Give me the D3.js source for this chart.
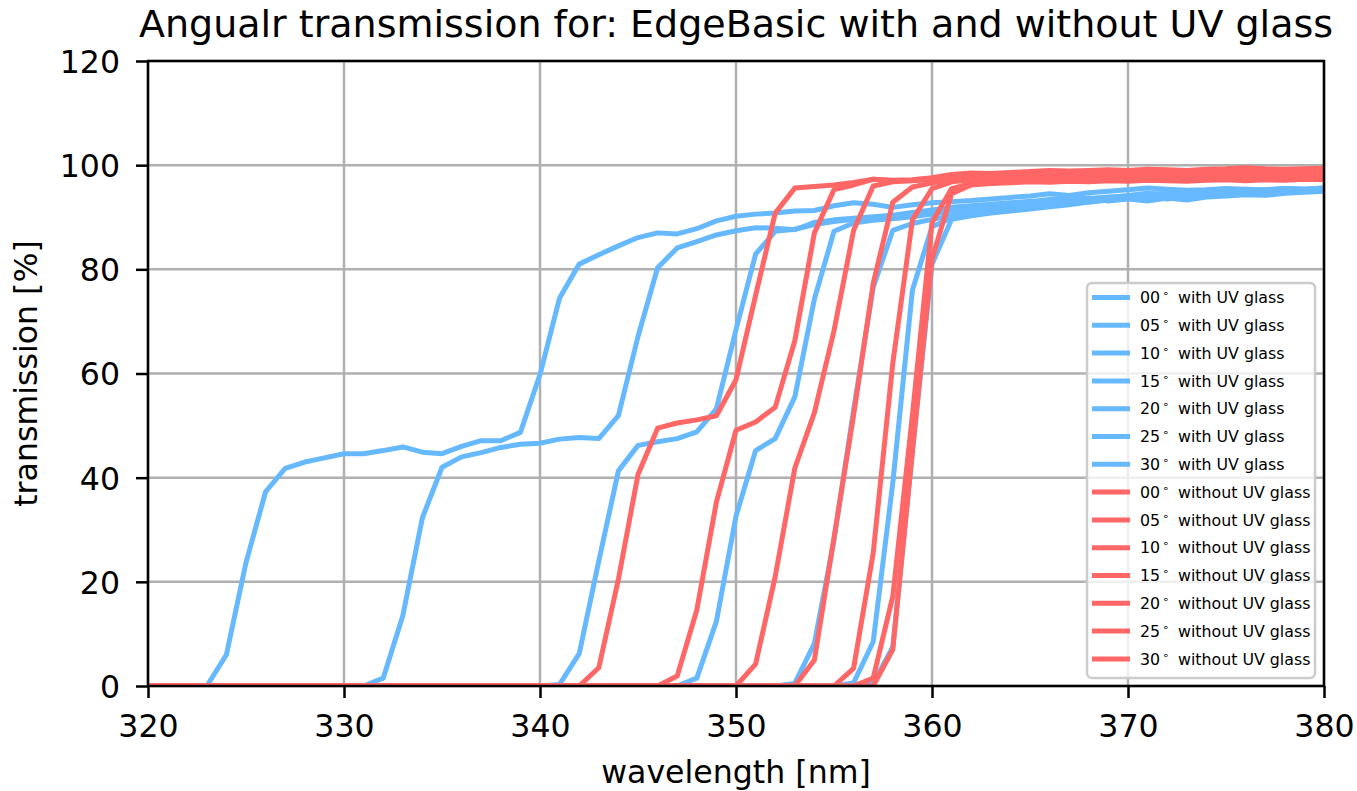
<!DOCTYPE html>
<html>
<head>
<meta charset="utf-8">
<script src="https://cdn.jsdelivr.net/npm/d3@7/dist/d3.min.js"></script>
<style>
  body { margin: 0; background: #fff; }
  svg { display: block; font-family: "DejaVu Sans", sans-serif; }
</style>
</head>
<body>
<svg id="chart" width="1357" height="791"></svg>
<script>
// wavelength axis (1 nm steps)
const wavelengths = [320,321,322,323,324,325,326,327,328,329,330,331,332,333,334,335,336,337,338,339,
  340,341,342,343,344,345,346,347,348,349,350,351,352,353,354,355,356,357,358,359,
  360,361,362,363,364,365,366,367,368,369,370,371,372,373,374,375,376,377,378,379,380];

const angles = ["00", "05", "10", "15", "20", "25", "30"];
const xTicks = [320, 330, 340, 350, 360, 370, 380];
const yTicks = [0, 20, 40, 60, 80, 100, 120];

// transmission with UV glass, 00 .. 30 degrees
const uv00 = [0,0,0,0,0,0,0,0,0,0,0,0,0,0,0,0,0,0,0,0,
  0,0,0,0,0,0,0,0,0,0,0,0,0,0,0,0,0,0.5,7.5,45,
  81,89.6,90.3,90.8,91.2,91.6,92,92.4,92.9,93.3,93.6,93.9,93.5,94,94.4,94.3,94.6,94.9,94.8,95,95.1];
const uv05 = [0,0,0,0,0,0,0,0,0,0,0,0,0,0,0,0,0,0,0,0,
  0,0,0,0,0,0,0,0,0,0,0,0,0,0,0,0,0.6,8.5,39,76,
  88.2,89.8,90.4,90.9,91.3,91.8,92.2,92.7,93.1,93.4,93.8,93.4,93.9,94.3,94.1,94.5,94.8,94.7,95,95.2,95.3];
const uv10 = [0,0,0,0,0,0,0,0,0,0,0,0,0,0,0,0,0,0,0,0,
  0,0,0,0,0,0,0,0,0,0,0,0,0,0.5,8.2,28,53,76.5,87.5,88.8,
  89.6,90.3,90.9,91.3,91.7,92.1,92.6,93,93.4,93.7,94,94.3,94.6,94.4,94.8,95.1,95,95.3,95.5,95.4,95.6];
const uv15 = [0,0,0,0,0,0,0,0,0,0,0,0,0,0,0,0,0,0,0,0,
  0,0,0,0,0,0,0,0,1.5,12.4,32.6,45.2,47.5,55.5,74.3,87.3,88.9,89.4,89.7,90.1,
  90.6,91.2,91.6,91.9,92.3,92.6,92.9,93.3,93.6,93.9,94.1,94.4,94.2,94.5,94.7,94.6,94.9,95.1,95.3,95.2,95.4];
const uv20 = [0,0,0,0,0,0,0,0,0,0,0,0,0,0,0,0,0,0,0,0,
  0,0.3,6.2,24,41.3,46.2,46.9,47.5,48.8,53.2,68.4,82.9,87.3,87.7,88.6,89.2,89.6,89.9,90.2,90.6,
  91.1,91.6,91.9,92.1,92.5,93.1,92.9,93.4,93.7,93.1,93.5,93.1,93.7,93.3,93.9,94.1,94.3,94.2,94.6,94.8,95];
const uv25 = [0,0,0,0,0,0,0,0,0,0,0,0,1.5,13.5,32.3,42,44,44.8,45.8,46.4,
  46.6,47.4,47.7,47.5,51.9,67.1,80.3,84.1,85.3,86.6,87.4,88,87.9,87.6,89,89.5,89.8,90.1,90.4,90.9,
  91.4,91.9,92.2,92.5,92.8,93,93.4,93.7,93.3,93.7,94.2,94.6,94.4,94,94.5,94.8,94.6,94.8,95,95,95.2];
const uv30 = [0,0,0,0,6,23.7,37.3,41.8,43,43.8,44.6,44.6,45.2,45.9,44.9,44.6,46,47.1,47.1,48.7,
  59.8,74.5,81,82.8,84.5,86.1,87,86.8,87.8,89.3,90.2,90.6,90.8,91.2,91.3,92.2,92.8,92.5,91.9,92.4,
  92.8,93,93.2,93.5,93.8,94.1,94.5,94.2,94.7,95,95.3,95.6,95.4,95.2,95.3,95.5,95.4,95.3,95.5,95.4,95.6];

// transmission without UV glass, 00 .. 30 degrees
const noUv00 = [0,0,0,0,0,0,0,0,0,0,0,0,0,0,0,0,0,0,0,0,
  0,0,0,0,0,0,0,0,0,0,0,0,0,0,0,0,0,0,7,45,
  82,94.5,96.2,96.5,96.6,96.8,96.7,96.9,96.8,97,96.9,97.1,97,96.9,97.1,97.2,97,97.2,97.1,97.3,97.2];
const noUv05 = [0,0,0,0,0,0,0,0,0,0,0,0,0,0,0,0,0,0,0,0,
  0,0,0,0,0,0,0,0,0,0,0,0,0,0,0,0,0,1.5,17.2,52,
  89,95.5,96.5,96.8,96.9,97.1,97,97.2,97.1,97.3,97.2,97.4,97.3,97.5,97.4,97.3,97.6,97.5,97.4,97.6,97.7];
const noUv10 = [0,0,0,0,0,0,0,0,0,0,0,0,0,0,0,0,0,0,0,0,
  0,0,0,0,0,0,0,0,0,0,0,0,0,0,0,0,3.4,25.5,62,89.5,
  95.5,96.8,97.2,97.1,97.3,97.5,97.4,97.6,97.5,97.7,97.8,97.6,97.8,97.9,97.7,97.9,98,97.8,98,97.9,98.1];
const noUv15 = [0,0,0,0,0,0,0,0,0,0,0,0,0,0,0,0,0,0,0,0,
  0,0,0,0,0,0,0,0,0,0,0,0,0,0,5,28.5,52,77.3,92.9,95.8,
  96.6,97.2,97.5,97.4,97.6,97.9,97.8,98,97.8,98,98.1,97.9,98,98.2,98.1,98.3,98.2,98.1,98.3,98.2,98.4];
const noUv20 = [0,0,0,0,0,0,0,0,0,0,0,0,0,0,0,0,0,0,0,0,
  0,0,0,0,0,0,0,0,0,0,0,4.2,21,41.8,52.5,68.2,87.5,96,96.8,97,
  97.3,97.8,98,97.9,98.1,98.3,98.2,98.4,98.2,98.3,98.5,98.4,98.3,98.5,98.6,98.4,98.7,98.6,98.5,98.7,98.8];
const noUv25 = [0,0,0,0,0,0,0,0,0,0,0,0,0,0,0,0,0,0,0,0,
  0,0,0,0,0,0,0,1.9,14.6,35.3,49.1,50.7,53.5,66.3,87,95.3,96.2,97.3,97,97.1,
  97.5,98,98.2,98.1,98.4,98.6,98.7,98.6,98.8,98.6,98.9,98.8,98.7,98.9,99,98.8,99.1,99,98.9,99,99.1];
const noUv30 = [0,0,0,0,0,0,0,0,0,0,0,0,0,0,0,0,0,0,0,0,
  0,0,0,3.5,20.5,40.6,49.5,50.5,51.1,51.9,58.8,75,90.8,95.6,95.9,96.2,96.7,97.3,97.1,97.2,
  97.6,98.2,98.5,98.4,98.6,98.8,99,98.9,99,99.1,99,99.2,99.1,99,99.2,99.3,99.5,99.3,99.2,99.3,99.4];

const withUv = [uv00, uv05, uv10, uv15, uv20, uv25, uv30];
const withoutUv = [noUv00, noUv05, noUv10, noUv15, noUv20, noUv25, noUv30];

const blue = "#66b8ff";
const red = "#ff6666";
const series = [];
withUv.forEach((v, i) => series.push({ angle: angles[i], text: "with UV glass", color: blue, values: v }));
withoutUv.forEach((v, i) => series.push({ angle: angles[i], text: "without UV glass", color: red, values: v }));

const plotLeft = 148, plotRight = 1324, plotTop = 61, plotBottom = 686;
const fs = 31.6;

const x = d3.scaleLinear().domain([320, 380]).range([plotLeft, plotRight]);
const y = d3.scaleLinear().domain([0, 120]).range([plotBottom, plotTop]);

const svg = d3.select("#chart");

svg.append("clipPath").attr("id", "plotClip")
  .append("rect").attr("x", plotLeft).attr("y", plotTop)
  .attr("width", plotRight - plotLeft).attr("height", plotBottom - plotTop);

// grid
const grid = svg.append("g");
grid.selectAll("line.gx").data(xTicks).enter().append("line")
  .attr("x1", d => x(d)).attr("x2", d => x(d))
  .attr("y1", plotTop).attr("y2", plotBottom)
  .attr("stroke", "#b0b0b0").attr("stroke-width", 2.5);
grid.selectAll("line.gy").data(yTicks).enter().append("line")
  .attr("x1", plotLeft).attr("x2", plotRight)
  .attr("y1", d => y(d)).attr("y2", d => y(d))
  .attr("stroke", "#b0b0b0").attr("stroke-width", 2.5);

// curves
const line = d3.line()
  .x((d, i) => x(wavelengths[i]))
  .y(d => y(d));

svg.append("g").attr("clip-path", "url(#plotClip)")
  .selectAll("path").data(series).enter().append("path")
  .attr("d", d => line(d.values))
  .attr("fill", "none")
  .attr("stroke", d => d.color)
  .attr("stroke-width", 5)
  .attr("stroke-linejoin", "round");

// axes
const xAxis = d3.axisBottom(x).tickValues(xTicks).tickSize(12).tickPadding(17).tickSizeOuter(0);
const yAxis = d3.axisLeft(y).tickValues(yTicks).tickSize(12).tickPadding(16).tickSizeOuter(0);

const gx = svg.append("g").attr("transform", `translate(0,${plotBottom})`).call(xAxis);
const gy = svg.append("g").attr("transform", `translate(${plotLeft},0)`).call(yAxis);
[gx, gy].forEach(g => {
  g.select(".domain").remove();
  g.selectAll(".tick line").attr("stroke", "#000").attr("stroke-width", 2.5);
  g.selectAll(".tick text").attr("fill", "#000")
    .style("font-family", "DejaVu Sans").style("font-size", fs + "px");
});
gy.selectAll(".tick text").attr("dy", "0.36em");

// spines
svg.append("rect")
  .attr("x", plotLeft).attr("y", plotTop)
  .attr("width", plotRight - plotLeft).attr("height", plotBottom - plotTop)
  .attr("fill", "none").attr("stroke", "#000").attr("stroke-width", 2.5);

// labels
svg.append("text")
  .attr("x", (plotLeft + plotRight) / 2).attr("y", 37)
  .attr("text-anchor", "middle").style("font-size", "38px")
  .text("Angualr transmission for: EdgeBasic with and without UV glass");

svg.append("text")
  .attr("x", (plotLeft + plotRight) / 2).attr("y", 783)
  .attr("text-anchor", "middle").style("font-size", fs + "px")
  .text("wavelength [nm]");

svg.append("text")
  .attr("transform", `translate(37,${(plotTop + plotBottom) / 2}) rotate(-90)`)
  .attr("text-anchor", "middle").style("font-size", fs + "px")
  .text("transmission [%]");

// legend
const lg = svg.append("g").attr("transform", "translate(1087,283)");
lg.append("rect")
  .attr("width", 228).attr("height", 395).attr("rx", 5)
  .attr("fill", "#fff").attr("fill-opacity", 0.8)
  .attr("stroke", "#cccccc").attr("stroke-width", 2.5);

const rows = lg.selectAll("g.row").data(series).enter().append("g")
  .attr("transform", (d, i) => `translate(0,${14.5 + i * 27.8})`);
rows.append("line")
  .attr("x1", 5).attr("x2", 43).attr("y1", 0).attr("y2", 0)
  .attr("stroke", d => d.color).attr("stroke-width", 5);
const label = rows.append("text")
  .attr("x", 53).attr("y", 5.6)
  .style("font-size", "15.8px").attr("fill", "#000");
label.append("tspan").text(d => d.angle);
label.append("tspan").attr("dx", 2).attr("dy", -6).style("font-size", "11px").text("\u2218");
label.append("tspan").attr("dx", 4).attr("dy", 6).text(d => " " + d.text);
</script>
</body>
</html>
